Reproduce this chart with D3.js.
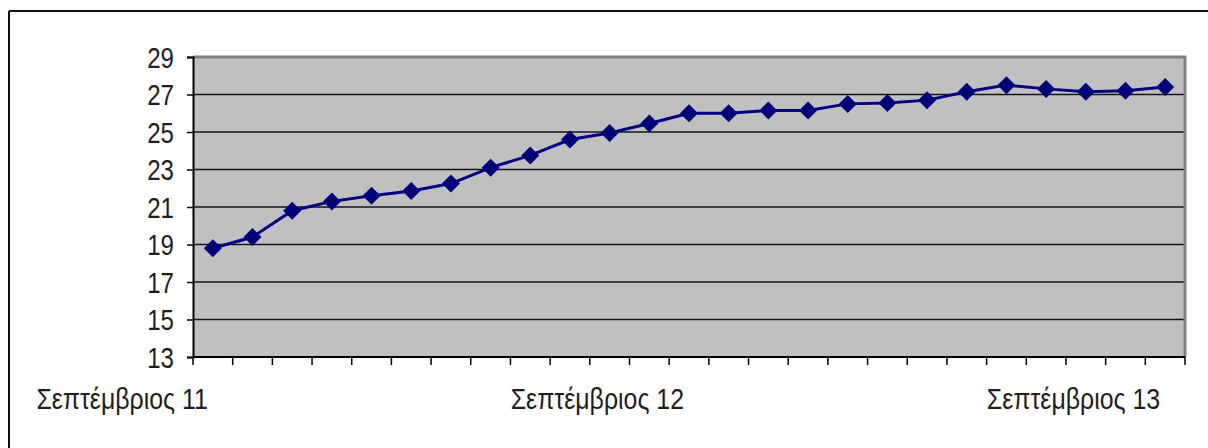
<!DOCTYPE html>
<html>
<head>
<meta charset="utf-8">
<script src="https://cdn.jsdelivr.net/npm/d3@7"></script>
<style>
html,body{margin:0;padding:0;background:#fff;}
svg{display:block;}
text{font-family:"Liberation Sans",Arial,sans-serif;fill:#1e1e1e;}
</style>
</head>
<body>
<svg id="chart" width="1208" height="448"></svg>
<script>
const categories = [
  "Σεπτέμβριος 11","Οκτώβριος 11","Νοέμβριος 11","Δεκέμβριος 11",
  "Ιανουάριος 12","Φεβρουάριος 12","Μάρτιος 12","Απρίλιος 12","Μάιος 12",
  "Ιούνιος 12","Ιούλιος 12","Αύγουστος 12","Σεπτέμβριος 12","Οκτώβριος 12",
  "Νοέμβριος 12","Δεκέμβριος 12","Ιανουάριος 13","Φεβρουάριος 13","Μάρτιος 13",
  "Απρίλιος 13","Μάιος 13","Ιούνιος 13","Ιούλιος 13","Αύγουστος 13","Σεπτέμβριος 13"
];
const values = [18.8, 19.4, 20.8, 21.3, 21.6, 21.85, 22.25, 23.1, 23.75, 24.6, 24.95, 25.45,
  26.0, 26.0, 26.15, 26.15, 26.5, 26.55, 26.7, 27.15, 27.5, 27.3, 27.15, 27.2, 27.4];
const yTicks = [13, 15, 17, 19, 21, 23, 25, 27, 29];
const xLabels = ["Σεπτέμβριος 11", "Σεπτέμβριος 12", "Σεπτέμβριος 13"];

const svg = d3.select("#chart");
const plot = {left: 193, right: 1185, top: 57, bottom: 357};

const x = d3.scaleBand().domain(categories).range([plot.left, plot.right]).padding(0);
const y = d3.scaleLinear().domain([13, 29]).range([plot.bottom, plot.top]);

// outer frame (top and left edges visible)
svg.append("line").attr("x1", 9).attr("x2", 1208).attr("y1", 11).attr("y2", 11)
  .attr("stroke", "#111").attr("stroke-width", 2);
svg.append("line").attr("x1", 9).attr("x2", 9).attr("y1", 11).attr("y2", 448)
  .attr("stroke", "#111").attr("stroke-width", 2);

// plot background
svg.append("rect").attr("x", plot.left).attr("y", plot.top)
  .attr("width", plot.right - plot.left).attr("height", plot.bottom - plot.top)
  .attr("fill", "#c0c0c0");

// gridlines
svg.append("g").selectAll("line").data(yTicks.filter(d => d > 13 && d < 29)).join("line")
  .attr("x1", plot.left).attr("x2", plot.right)
  .attr("y1", d => y(d)).attr("y2", d => y(d))
  .attr("stroke", "#151515").attr("stroke-width", 1.5);

// plot border top/right (gray)
svg.append("path")
  .attr("d", `M${plot.left},${y(29)}H${plot.right}V${plot.bottom}`)
  .attr("fill", "none").attr("stroke", "#808080").attr("stroke-width", 3);

// y axis
const yAxis = d3.axisLeft(y).tickValues(yTicks).tickSize(6).tickFormat(d3.format("d"));
const gy = svg.append("g").attr("transform", `translate(${plot.left},0)`).call(yAxis);
gy.select(".domain").attr("stroke", "#000").attr("stroke-width", 2);
gy.selectAll(".tick line").attr("stroke", "#000").attr("stroke-width", 1.5);
gy.selectAll(".tick text").remove();
gy.selectAll(".tick").append("text")
  .attr("text-anchor", "end")
  .attr("dy", "0.36em")
  .attr("transform", "translate(-19,0) scale(0.83,1)")
  .style("font-size", "29px")
  .attr("fill", "#1e1e1e")
  .text(d => d);

// x axis: ticks at category boundaries
const boundaries = categories.map(c => x(c)).concat([x(categories[categories.length - 1]) + x.bandwidth()]);
const gx = svg.append("g");
gx.append("line").attr("x1", plot.left).attr("x2", plot.right)
  .attr("y1", plot.bottom).attr("y2", plot.bottom)
  .attr("stroke", "#000").attr("stroke-width", 2);
gx.selectAll("line.tk").data(boundaries).join("line").attr("class", "tk")
  .attr("x1", d => d).attr("x2", d => d)
  .attr("y1", plot.bottom).attr("y2", plot.bottom + 8)
  .attr("stroke", "#000").attr("stroke-width", 1.5);

// x labels (right-aligned at category centre)
gx.selectAll("text.xl").data(xLabels).join("text").attr("class", "xl")
  .attr("text-anchor", "end")
  .attr("transform", d => `translate(${x(d) + x.bandwidth() / 2 - 5},409) scale(0.83,1)`)
  .style("font-size", "30px")
  .text(d => d);

// line
const line = d3.line().x((d, i) => x(categories[i]) + x.bandwidth() / 2).y(d => y(d));
svg.append("path").datum(values).attr("d", line)
  .attr("fill", "none").attr("stroke", "#000080").attr("stroke-width", 3);

// diamond markers
const r = 9;
svg.append("g").selectAll("path").data(values).join("path")
  .attr("d", (d, i) => {
    const cx = x(categories[i]) + x.bandwidth() / 2, cy = y(d);
    return `M${cx},${cy - r}L${cx + r},${cy}L${cx},${cy + r}L${cx - r},${cy}Z`;
  })
  .attr("fill", "#000078");
</script>
</body>
</html>
